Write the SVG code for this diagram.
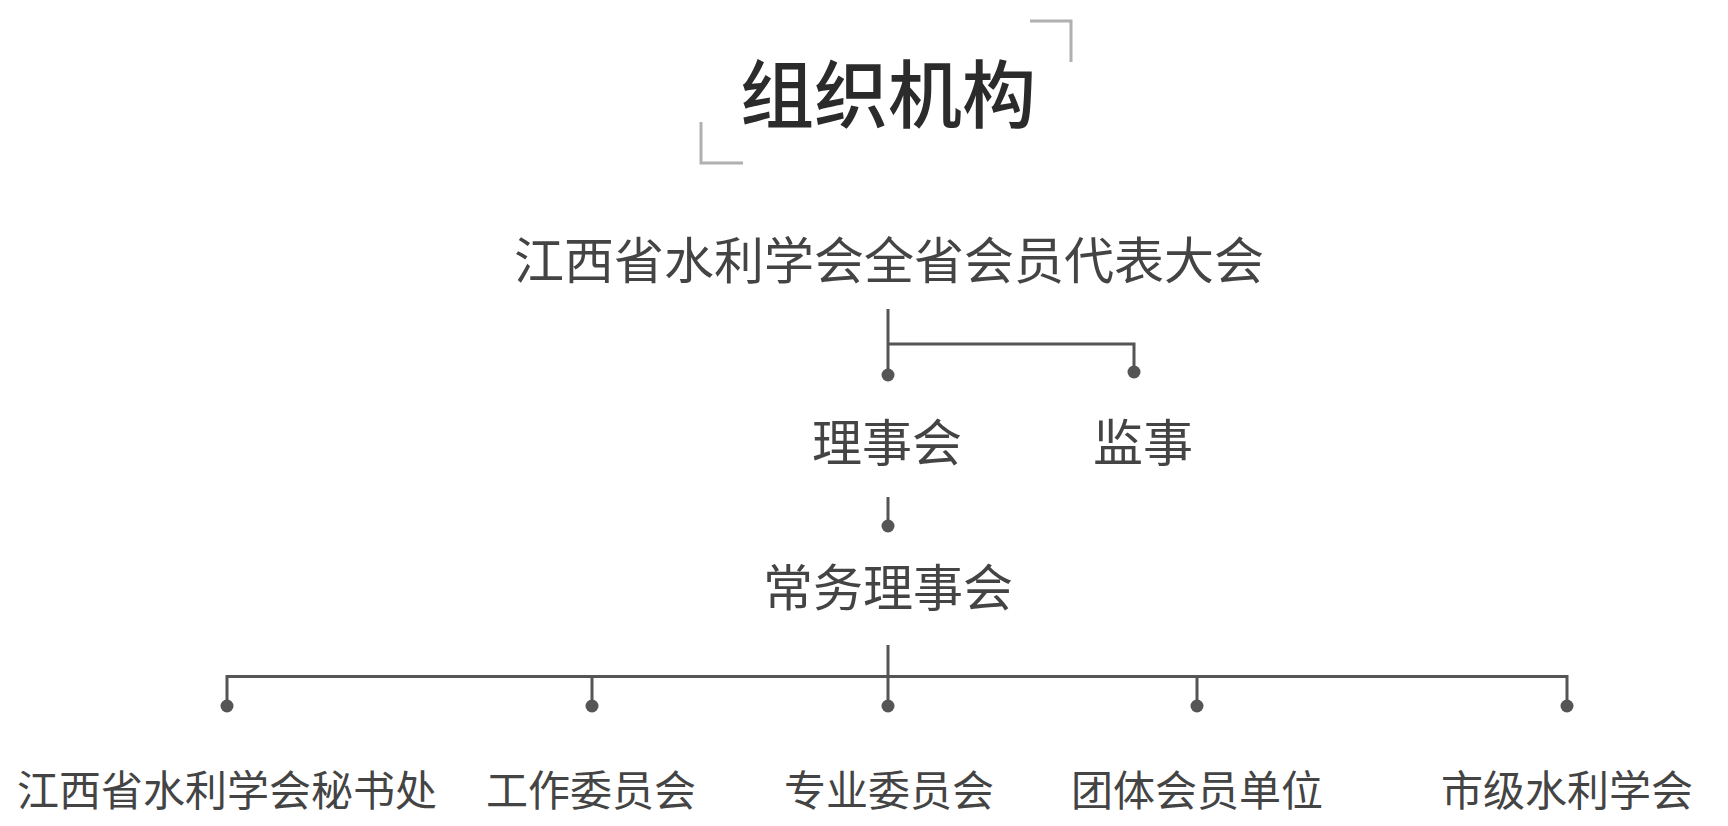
<svg xmlns="http://www.w3.org/2000/svg" width="1728" height="826" viewBox="0 0 1728 826">
<style>
text{font-family:"Noto Sans CJK SC","Noto Sans",sans-serif;fill:#444;text-anchor:middle}
.t{font-size:74px;fill:#2b2b2b;font-weight:500}
.l1{font-size:50px}
.l2{font-size:42px}
.ln{stroke:#555;stroke-width:3;fill:none}
.dot{fill:#555}
.br{stroke:#b0b0b0;stroke-width:3;fill:none}
</style>
<rect width="1728" height="826" fill="#fff"/>
<g id="title">
<path class="br" d="M1030 21H1071V62"/>
<path class="br" d="M701 122V163H743"/>
<text class="t" x="888" y="122">组织机构</text>
</g>
<g id="connectors">
<path class="ln" d="M888 309V375M888 344H1134V372"/>
<circle class="dot" cx="888" cy="375" r="6.5"/>
<circle class="dot" cx="1134" cy="372" r="6.5"/>
<path class="ln" d="M888 497V526"/>
<circle class="dot" cx="888" cy="526" r="6.5"/>
<path class="ln" d="M888 645V706M227 676.5H1567M227 675V706M592 675V706M1197 675V706M1567 675V706"/>
<circle class="dot" cx="227" cy="706" r="6.5"/>
<circle class="dot" cx="592" cy="706" r="6.5"/>
<circle class="dot" cx="888" cy="706" r="6.5"/>
<circle class="dot" cx="1197" cy="706" r="6.5"/>
<circle class="dot" cx="1567" cy="706" r="6.5"/>
</g>
<g id="n-congress"><text class="l1" x="889" y="279">江西省水利学会全省会员代表大会</text></g>
<g id="n-council"><text class="l1" x="887" y="461">理事会</text></g>
<g id="n-supervisor"><text class="l1" x="1143" y="461">监事</text></g>
<g id="n-standing"><text class="l1" x="888" y="606">常务理事会</text></g>
<g id="n-secretariat"><text class="l2" x="227" y="806">江西省水利学会秘书处</text></g>
<g id="n-work"><text class="l2" x="591" y="806">工作委员会</text></g>
<g id="n-special"><text class="l2" x="889" y="806">专业委员会</text></g>
<g id="n-group"><text class="l2" x="1197" y="806">团体会员单位</text></g>
<g id="n-city"><text class="l2" x="1567" y="806">市级水利学会</text></g>
</svg>
